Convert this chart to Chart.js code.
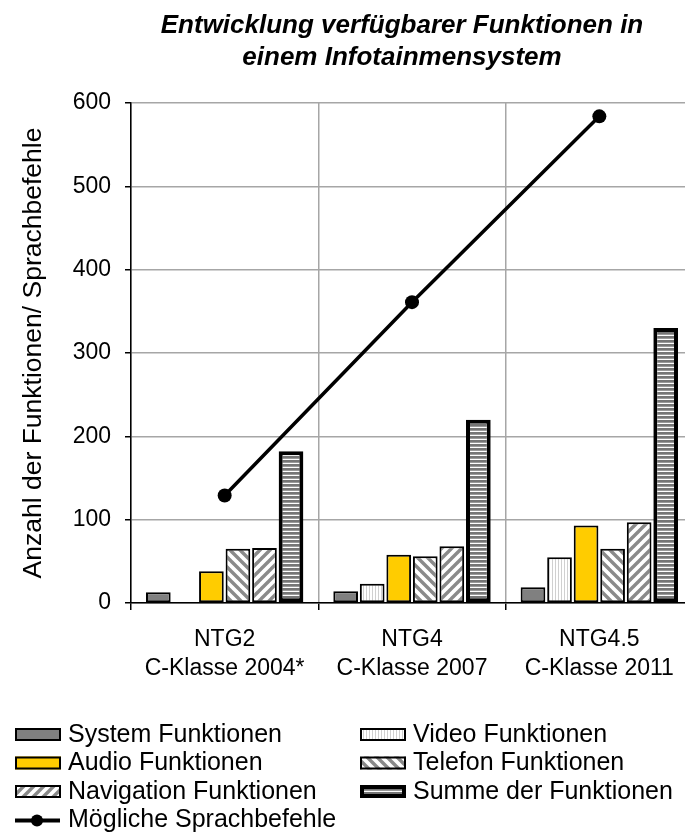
<!DOCTYPE html>
<html>
<head>
<meta charset="utf-8">
<script src="https://cdn.jsdelivr.net/npm/chart.js@4.4.0/dist/chart.umd.min.js"></script>
<style>
html, body { margin: 0; padding: 0; background: #fff; overflow: hidden; }
#wrap { width: 700px; height: 836px; }
</style>
</head>
<body>
<div id="wrap"><canvas id="canvas" width="700" height="836"></canvas></div>
<script>
// values
const categories = [['NTG2', 'C-Klasse 2004*'], ['NTG4', 'C-Klasse 2007'], ['NTG4.5', 'C-Klasse 2011']];
const systemFn = [13, 14, 19];
const videoFn = [null, 23, 55];
const audioFn = [38, 58, 93];
const telefonFn = [65, 56, 65];
const navigationFn = [66, 68, 97];
const summeFn = [182, 220, 330];
const sprachbefehle = [129, 361, 584];
const yTicks = [0, 100, 200, 300, 400, 500, 600];

const titleLines = ['Entwicklung verfügbarer Funktionen in', 'einem Infotainmensystem'];
const FONT = '"Liberation Sans", Arial, sans-serif';

const canvas = document.getElementById('canvas');
const ctx = canvas.getContext('2d');

function makePattern(w, h, draw) {
    const c = document.createElement('canvas');
    c.width = w;
    c.height = h;
    const g = c.getContext('2d');
    g.fillStyle = '#fff';
    g.fillRect(0, 0, w, h);
    draw(g, w, h);
    return ctx.createPattern(c, 'repeat');
}

const videoPat = makePattern(3, 1, (g) => {
    g.fillStyle = '#d0d0d0';
    g.fillRect(0, 0, 1, 1);
});

function diagonal(down) {
    return makePattern(10, 10, (g, s) => {
        g.strokeStyle = '#8a8a8a';
        g.lineWidth = 3.4;
        [-s, 0, s].forEach(c => {
            g.beginPath();
            if (down) {
                g.moveTo(-1, c - 1);
                g.lineTo(s + 1, c + s + 1);
            } else {
                g.moveTo(-1, c + s + 1);
                g.lineTo(s + 1, c - 1);
            }
            g.stroke();
        });
    });
}
const telefonPat = diagonal(true);
const navPat = diagonal(false);

const summePat = makePattern(1, 4, (g) => {
    g.fillStyle = '#767676';
    g.fillRect(0, 0, 1, 2);
    g.fillStyle = '#9a9a9a';
    g.fillRect(0, 2, 1, 1);
});

function barSet(label, data, fill, bw) {
    return {
        type: 'bar',
        label: label,
        data: data,
        backgroundColor: fill,
        borderColor: '#000',
        borderWidth: bw || 2,
        borderSkipped: false,
        barPercentage: 0.93,
        categoryPercentage: 0.85,
        order: 1
    };
}

const datasets = [
    barSet('System Funktionen', systemFn, '#808080'),
    barSet('Video Funktionen', videoFn, videoPat),
    barSet('Audio Funktionen', audioFn, '#ffcc00'),
    barSet('Telefon Funktionen', telefonFn, telefonPat),
    barSet('Navigation Funktionen', navigationFn, navPat),
    barSet('Summe der Funktionen', summeFn, summePat, 4),
    {
        type: 'line',
        label: 'Mögliche Sprachbefehle',
        data: sprachbefehle,
        borderColor: '#000',
        borderWidth: 3.5,
        pointRadius: 7,
        pointBackgroundColor: '#000',
        pointBorderWidth: 0,
        fill: false,
        order: 0
    }
];

// legend laid out in two columns like the original
const legendSlots = [
    { i: 0, x: 15, y: 735 }, { i: 1, x: 360, y: 735 },
    { i: 2, x: 15, y: 763.5 }, { i: 3, x: 360, y: 763.5 },
    { i: 4, x: 15, y: 792 }, { i: 5, x: 360, y: 792 },
    { i: 6, x: 15, y: 820.5 }
];

const extras = {
    id: 'extras',
    afterDraw(chart) {
        const c = chart.ctx;
        c.save();
        c.fillStyle = '#000';
        c.textAlign = 'center';
        c.textBaseline = 'middle';
        c.font = 'italic bold 26px ' + FONT;
        c.fillText(titleLines[0], 402, 26);
        c.fillText(titleLines[1], 402, 58);

        c.font = '25px ' + FONT;
        c.textAlign = 'left';
        legendSlots.forEach(slot => {
            const ds = chart.data.datasets[slot.i];
            if (ds.type === 'line') {
                c.strokeStyle = '#000';
                c.lineWidth = 4;
                c.beginPath();
                c.moveTo(slot.x, slot.y);
                c.lineTo(slot.x + 45, slot.y);
                c.stroke();
                c.beginPath();
                c.arc(slot.x + 22, slot.y, 6, 0, Math.PI * 2);
                c.fillStyle = '#000';
                c.fill();
            } else {
                const bw = ds.borderWidth;
                c.fillStyle = ds.backgroundColor;
                c.fillRect(slot.x, slot.y - 7, 46, 13);
                c.strokeStyle = '#000';
                c.lineWidth = bw;
                c.strokeRect(slot.x + bw / 2, slot.y - 7 + bw / 2, 46 - bw, 13 - bw);
            }
            c.fillStyle = '#000';
            c.fillText(ds.label, slot.x + 53, slot.y);
        });
        c.restore();
    }
};

Chart.defaults.font.family = FONT;
Chart.defaults.color = '#000';

new Chart(canvas, {
    data: { labels: categories, datasets: datasets },
    options: {
        responsive: false,
        animation: false,
        layout: { padding: { top: 103, right: 4, bottom: 153, left: 0 } },
        plugins: { legend: { display: false }, tooltip: { enabled: false } },
        scales: {
            x: {
                grid: { color: '#a6a6a6', lineWidth: 1.5, offset: true, tickLength: 7, tickColor: '#000' },
                border: { color: '#000', width: 1.5 },
                ticks: { font: { size: 23, lineHeight: 1.27 }, color: '#000', padding: 15, maxRotation: 0 },
                afterFit: (scale) => { scale.height = 80; }
            },
            y: {
                min: 0,
                max: 600,
                afterBuildTicks: (scale) => { scale.ticks = yTicks.map(v => ({ value: v })); },
                ticks: { font: { size: 23 }, color: '#000', padding: 14 },
                grid: { color: '#a6a6a6', lineWidth: 1.5, tickLength: 6, tickColor: '#000' },
                border: { color: '#000', width: 1.5 },
                title: {
                    display: true,
                    text: 'Anzahl der Funktionen/ Sprachbefehle',
                    font: { size: 26.5 },
                    color: '#000',
                    padding: { top: 18, bottom: 0 }
                },
                afterFit: (scale) => { scale.width = 131; }
            }
        }
    },
    plugins: [extras]
});
</script>
</body>
</html>
